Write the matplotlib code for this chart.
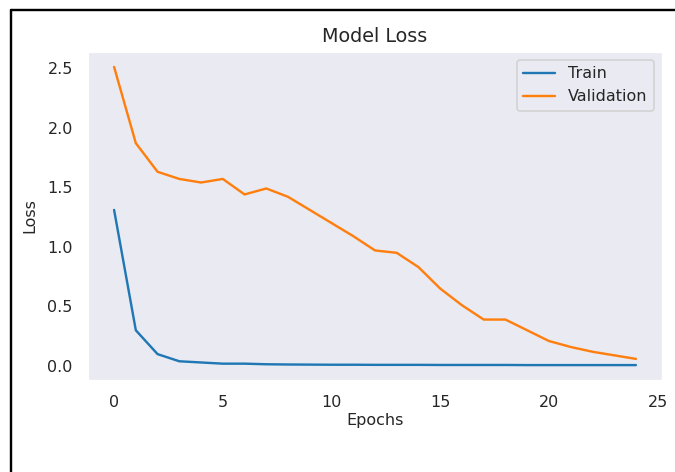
import numpy as np
import seaborn as sns
import matplotlib
matplotlib.use("Agg")
from matplotlib import pyplot as plt
from matplotlib.lines import Line2D

epochs = list(range(25))
train_loss = [1.31, 0.30, 0.10, 0.04, 0.03, 0.02, 0.02, 0.015, 0.013, 0.012,
              0.011, 0.011, 0.010, 0.010, 0.010, 0.009, 0.009, 0.009, 0.009, 0.008,
              0.008, 0.008, 0.008, 0.008, 0.008]
val_loss = [2.51, 1.87, 1.63, 1.57, 1.54, 1.57, 1.44, 1.49, 1.42, 1.31,
            1.20, 1.09, 0.97, 0.95, 0.83, 0.65, 0.51, 0.39, 0.39, 0.30,
            0.21, 0.16, 0.12, 0.09, 0.06]

sns.set_style("dark")
plt.rcParams['font.family'] = ['DejaVu Sans']

dpi = 115
fig = plt.figure(figsize=(675 / dpi, 472 / dpi), dpi=dpi)
ax = fig.add_axes([88 / 675, 1 - 380 / 472, (662 - 88) / 675, (380 - 52) / 472])

ax.plot(epochs, train_loss, label="Train")
ax.plot(epochs, val_loss, label="Validation")
ax.set_title("Model Loss", fontsize=12)
ax.set_xlabel("Epochs", fontsize=10, labelpad=2)
ax.set_ylabel("Loss", fontsize=10, labelpad=6)
ax.tick_params(labelsize=10, pad=6)
ax.legend(loc="upper right", fontsize=10)

# screenshot frame
fig.add_artist(Line2D([11 / 675, 1], [1 - 10 / 472, 1 - 10 / 472],
                      transform=fig.transFigure, color="black", lw=1.5))
fig.add_artist(Line2D([11 / 675, 11 / 675], [0, 1 - 10 / 472],
                      transform=fig.transFigure, color="black", lw=1.5))

fig.savefig("out.png", dpi=dpi)
